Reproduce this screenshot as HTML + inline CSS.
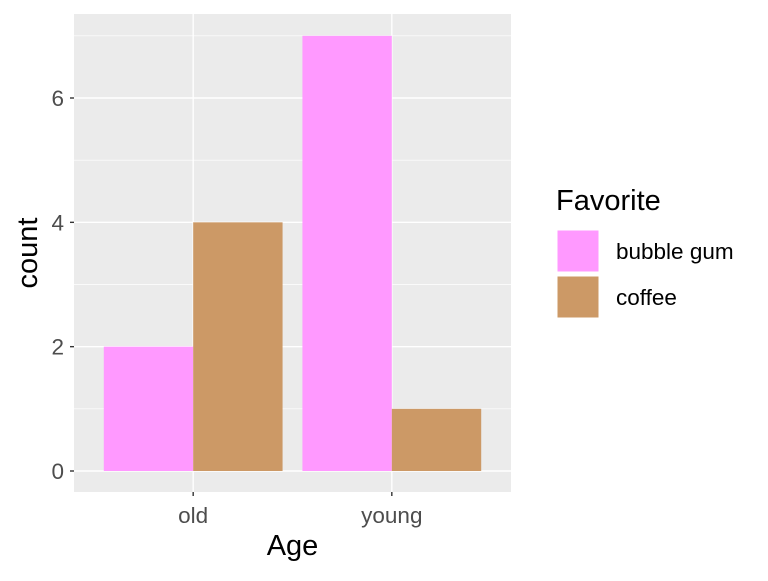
<!DOCTYPE html>
<html><head><meta charset="utf-8"><style>
body{margin:0;background:#fff;font-family:"Liberation Sans",sans-serif}
</style></head><body>
<svg width="768" height="576" xmlns="http://www.w3.org/2000/svg" font-family="Liberation Sans, sans-serif">
<g id="plot"></g>
</svg>
<script>
const categories=["old","young"];
const seriesNames=["bubble gum","coffee"];
const bubbleGum=[2,7];
const coffee=[4,1];
const yTicks=[0,2,4,6];
const colors=["#ff99ff","#cc9966"];
const NS="http://www.w3.org/2000/svg";
const g=document.getElementById('plot');
const L=74,R=511,T=14,B=492;
const y=v=>471-v*(471-98)/6;
const x=c=>L+(c-0.4)*(R-L)/2.2;
const unit=(R-L)/2.2;
function el(t,a,p){const e=document.createElementNS(NS,t);for(const k in a)e.setAttribute(k,a[k]);(p||g).appendChild(e);return e;}
const bg=el('rect',{x:L,y:T,width:R-L,height:B-T,fill:'#ebebeb'});


for(let i=0;i<yTicks.length-1;i++){const m=(yTicks[i]+yTicks[i+1])/2;el('line',{x1:L,x2:R,y1:y(m),y2:y(m),stroke:'#fff','stroke-width':0.7});}
el('line',{x1:L,x2:R,y1:y(7),y2:y(7),stroke:'#fff','stroke-width':0.7});
yTicks.forEach(t=>{
 el('line',{x1:L,x2:R,y1:y(t),y2:y(t),stroke:'#fff','stroke-width':1.4});
 el('line',{x1:L-4,x2:L,y1:y(t),y2:y(t),stroke:'#333','stroke-width':1.4});
 const tx=el('text',{x:L-10,y:y(t)+8,'text-anchor':'end','font-size':22.5,fill:'#4d4d4d'});tx.textContent=t;
 
 
});
categories.forEach((c,i)=>{
 el('line',{x1:x(i+1),x2:x(i+1),y1:T,y2:B,stroke:'#fff','stroke-width':1.4});
 el('line',{x1:x(i+1),x2:x(i+1),y1:B,y2:B+4,stroke:'#333','stroke-width':1.4});
 const tx=el('text',{x:x(i+1),y:B+31,'text-anchor':'middle','font-size':22.5,fill:'#4d4d4d'});tx.textContent=c;
 
 
});
const bw=0.45*unit;
[bubbleGum,coffee].forEach((s,si)=>{
 s.forEach((v,i)=>{
  const r=el('rect',{x:x(i+1)-bw+si*bw,y:y(v),width:bw,height:y(0)-y(v),fill:colors[si]});
  
  
 });
});
let t=el('text',{x:(L+R)/2,y:555,'text-anchor':'middle','font-size':29,fill:'#000'});t.textContent='Age';


t=el('text',{x:0,y:0,'text-anchor':'middle','font-size':29,fill:'#000',transform:'translate(37,253) rotate(-90)'});t.textContent='count';


t=el('text',{x:556,y:210,'font-size':29,fill:'#000'});t.textContent='Favorite';


seriesNames.forEach((n,i)=>{
 const k=el('rect',{x:557,y:230+i*46,width:42,height:42,fill:colors[i],stroke:'#fff','stroke-width':1});
 
 
 const lt=el('text',{x:616,y:259+i*46,'font-size':22.5,fill:'#000'});lt.textContent=n;
 
 
});
</script>
</body></html>
